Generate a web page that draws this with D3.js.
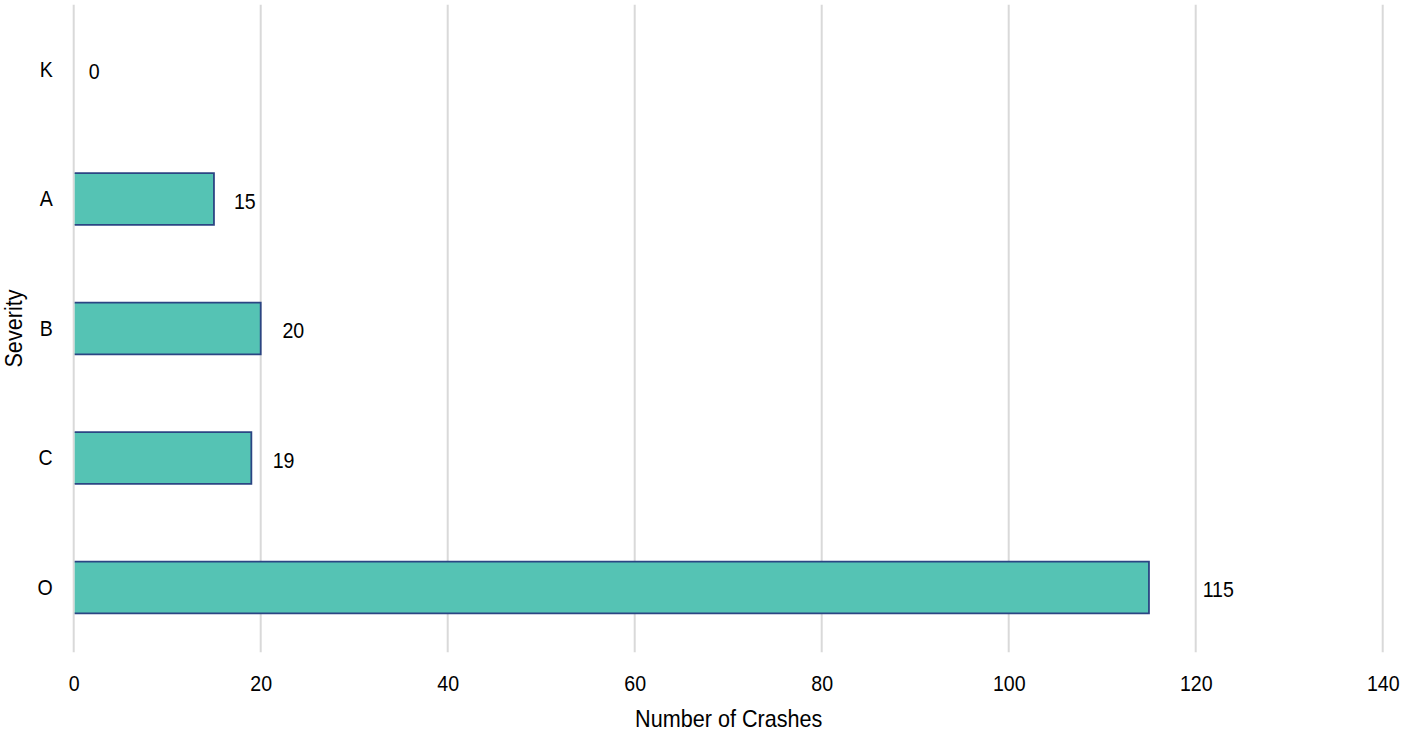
<!DOCTYPE html>
<html>
<head>
<meta charset="utf-8">
<script src="https://cdn.jsdelivr.net/npm/d3@7"></script>
<style>
  html, body { margin: 0; padding: 0; background: #fff; }
  svg { display: block; }
  svg text { font-family: "Liberation Sans", Arial, sans-serif; }
</style>
</head>
<body>
<svg id="chart" width="1405" height="734"></svg>
<script>
const categories = ["K", "A", "B", "C", "O"];
const values = [0, 15, 20, 19, 115];
const xTicks = [0, 20, 40, 60, 80, 100, 120, 140];
const xTitle = "Number of Crashes";
const yTitle = "Severity";

const FS = 22.5, SX = 0.87;     // tick / label font
const TFS = 24, TSX = 0.9;      // title font
const svg = d3.select("#chart");
const plotLeft = 73.7, plotRight = 1382.7, plotTop = 4.75, plotBottom = 652.3;

// condense text horizontally around its own anchor
function narrow(sel, s, extra) {
  sel.each(function () {
    const t = d3.select(this);
    const x0 = +(t.attr("x") || 0);
    t.attr("x", x0 / s)
     .attr("transform", (extra ? extra + " " : "") + `scale(${s},1)`);
  });
}

const x = d3.scaleLinear().domain([0, 140]).range([plotLeft, plotRight]);
const y = d3.scaleBand().domain(categories).range([plotTop, plotBottom])
  .paddingInner(0.6).paddingOuter(0.3);

// gridlines
svg.append("g").selectAll("line").data(xTicks).join("line")
  .attr("x1", d => x(d)).attr("x2", d => x(d))
  .attr("y1", plotTop).attr("y2", plotBottom)
  .attr("stroke", "#d9d9d9").attr("stroke-width", 2);

// x tick labels via axis
const xAxis = svg.append("g")
  .attr("transform", `translate(0,${plotBottom})`)
  .call(d3.axisBottom(x).tickValues(xTicks).tickSize(0).tickPadding(22.7).tickFormat(d3.format("d")));
xAxis.select(".domain").remove();
xAxis.attr("font-family", null).attr("font-size", FS);
xAxis.selectAll("text").attr("fill", "#000").call(narrow, SX);

// y tick labels via axis
const yAxis = svg.append("g")
  .attr("transform", `translate(${plotLeft},0)`)
  .call(d3.axisLeft(y).tickSize(0).tickPadding(21));
yAxis.select(".domain").remove();
yAxis.attr("font-family", null).attr("font-size", FS);
yAxis.selectAll("text").attr("fill", "#000").call(narrow, SX);

const data = categories.map((c, i) => ({ c, v: values[i] }));

// bars (fill)
svg.append("g").selectAll("rect").data(data.filter(d => d.v > 0)).join("rect")
  .attr("x", x(0) + 1)
  .attr("y", d => y(d.c))
  .attr("width", d => x(d.v) - x(0) - 1)
  .attr("height", y.bandwidth())
  .attr("fill", "#55c3b4");

// bar outline (top, right, bottom)
svg.append("g").selectAll("path").data(data.filter(d => d.v > 0)).join("path")
  .attr("d", d => {
    const p = d3.path();
    p.moveTo(x(0) + 1, y(d.c));
    p.lineTo(x(d.v), y(d.c));
    p.lineTo(x(d.v), y(d.c) + y.bandwidth());
    p.lineTo(x(0) + 1, y(d.c) + y.bandwidth());
    return p.toString();
  })
  .attr("fill", "none")
  .attr("stroke", "#2b4583")
  .attr("stroke-width", 1.8);

// value labels
svg.append("g").selectAll("text").data(data).join("text")
  .attr("x", d => x(d.v) + 15 + 0.036 * (x(d.v) - x(0)))
  .attr("y", d => y(d.c) + y.bandwidth() / 2 + 2)
  .attr("dy", "0.35em")
  .attr("font-size", FS)
  .attr("fill", "#000")
  .text(d => d.v)
  .call(narrow, SX);

// axis titles
svg.append("text")
  .attr("x", (plotLeft + plotRight) / 2 + 0.5)
  .attr("y", 727.3)
  .attr("text-anchor", "middle")
  .attr("font-size", TFS)
  .attr("fill", "#000")
  .text(xTitle)
  .call(narrow, TSX);

svg.append("text")
  .attr("text-anchor", "middle")
  .attr("font-size", TFS)
  .attr("fill", "#000")
  .text(yTitle)
  .call(narrow, TSX, `translate(21.5,${(plotTop + plotBottom) / 2}) rotate(-90)`);
</script>
</body>
</html>
